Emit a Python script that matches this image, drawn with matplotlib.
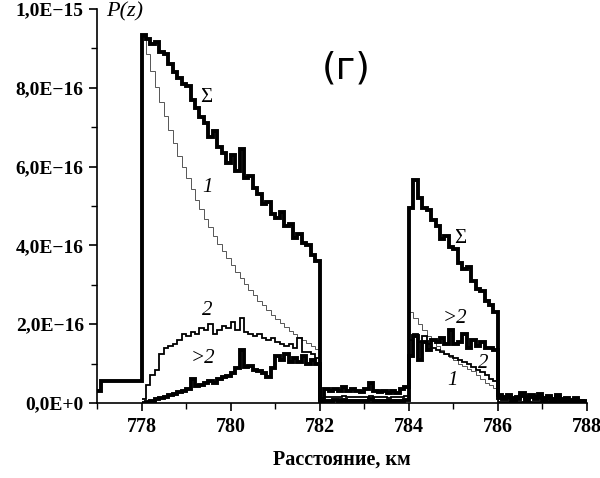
import numpy as np
import matplotlib
matplotlib.use("Agg")
import matplotlib.pyplot as plt
from matplotlib.ticker import MultipleLocator, FixedLocator, FixedFormatter

# values in units of 1e-16, bins of 0.1 km
step = 0.1

# sum curve, from 777.0 km
sum_pre = [0.3, 0.55, 0.55, 0.55, 0.55, 0.55, 0.55, 0.55, 0.55, 0.55]
sum_p1 = [9.35, 9.25, 9.1, 9.15, 8.9, 8.85, 8.6, 8.4, 8.25, 8.1,
          8.05, 7.7, 7.5, 7.25, 7.1, 6.75, 6.9, 6.5, 6.35, 6.1,
          6.3, 5.9, 6.45, 5.7, 5.75, 5.45, 5.3, 5.05, 5.1, 4.8,
          4.7, 4.85, 4.5, 4.55, 4.2, 4.3, 4.05, 4.0, 3.75, 3.6]
sum_gap = [0.1, 0.35, 0.3, 0.35, 0.3, 0.4, 0.3, 0.35, 0.3, 0.28,
           0.35, 0.5, 0.3, 0.28, 0.3, 0.25, 0.3, 0.25, 0.35, 0.4]
sum_p2 = [4.95, 5.65, 5.2, 4.95, 4.9, 4.65, 4.5, 4.15, 4.25, 3.95,
          3.9, 3.55, 3.4, 3.45, 3.1, 2.9, 2.85, 2.6, 2.5, 2.3]
sum_tail = [0.2, 0.15, 0.2, 0.12, 0.15, 0.25, 0.12, 0.2, 0.15, 0.22,
            0.12, 0.18, 0.1, 0.2, 0.1, 0.12, 0.08, 0.12, 0.06, 0.05]

# single scattering (1), from 778.0 km
one_p1 = [9.3, 8.86, 8.43, 8.03, 7.64, 7.28, 6.93, 6.6, 6.28, 5.98,
          5.7, 5.42, 5.16, 4.92, 4.68, 4.46, 4.25, 4.04, 3.85, 3.67,
          3.49, 3.32, 3.16, 3.01, 2.87, 2.73, 2.6, 2.48, 2.36, 2.24,
          2.14, 2.03, 1.94, 1.84, 1.76, 1.67, 1.59, 1.52, 1.44, 1.37]
one_gap = [0.1] * 20
one_p2 = [2.3, 2.15, 2.0, 1.85, 1.7, 1.58, 1.45, 1.35, 1.25, 1.17,
          1.08, 1.0, 0.93, 0.87, 0.8, 0.7, 0.6, 0.52, 0.45, 0.38]
one_tail = [0.02] * 20

# double scattering (2)
two_p1 = [0.1, 0.45, 0.7, 0.85, 1.25, 1.4, 1.45, 1.5, 1.6, 1.75,
          1.7, 1.8, 1.75, 1.9, 1.85, 2.0, 1.75, 1.85, 1.95, 1.9,
          2.05, 1.85, 2.15, 1.8, 1.75, 1.7, 1.75, 1.65, 1.6, 1.65,
          1.55, 1.5, 1.45, 1.5, 1.4, 1.65, 1.3, 1.3, 1.25, 1.15]
two_gap = [0.05, 0.15, 0.14, 0.16, 0.15, 0.17, 0.14, 0.15, 0.16, 0.14,
           0.15, 0.18, 0.14, 0.15, 0.14, 0.13, 0.15, 0.14, 0.16, 0.18]
two_p2 = [1.6, 1.75, 1.55, 1.7, 1.5, 1.4, 1.35, 1.3, 1.25, 1.2,
          1.15, 1.1, 1.05, 1.0, 0.92, 0.85, 0.78, 0.7, 0.62, 0.55]
two_tail = [0.03] * 20

# multiple scattering (>2)
many_p1 = [0.0, 0.03, 0.06, 0.1, 0.12, 0.15, 0.2, 0.22, 0.28, 0.3,
           0.35, 0.6, 0.42, 0.45, 0.5, 0.55, 0.52, 0.6, 0.65, 0.68,
           0.75, 0.9, 1.35, 0.92, 0.95, 0.85, 0.82, 0.75, 0.65, 0.9,
           1.2, 1.1, 1.25, 1.05, 1.15, 1.05, 1.2, 1.0, 1.1, 1.0]
many_gap = [0.03, 0.06, 0.05, 0.07, 0.05, 0.08, 0.05, 0.06, 0.05, 0.04,
            0.06, 0.1, 0.05, 0.04, 0.05, 0.04, 0.05, 0.04, 0.06, 0.08]
many_p2 = [1.2, 1.7, 1.1, 1.55, 1.35, 1.6, 1.55, 1.65, 1.5, 1.85,
           1.5, 1.55, 1.75, 1.4, 1.6, 1.45, 1.55, 1.4, 1.4, 1.35]
many_tail = [0.12, 0.1, 0.14, 0.08, 0.1, 0.18, 0.08, 0.14, 0.1, 0.15,
             0.08, 0.12, 0.06, 0.14, 0.06, 0.08, 0.05, 0.08, 0.04, 0.03]

y_ticks = [0, 2e-16, 4e-16, 6e-16, 8e-16, 1e-15]
y_labels = ["0,0E+0", "2,0E\u221216", "4,0E\u221216", "6,0E\u221216", "8,0E\u221216", "1,0E\u221215"]

sum_vals = np.array(sum_pre + sum_p1 + sum_gap + sum_p2 + sum_tail) * 1e-16
one_vals = np.array(one_p1 + one_gap + one_p2 + one_tail) * 1e-16
two_vals = np.array(two_p1 + two_gap + two_p2 + two_tail) * 1e-16
many_vals = np.array(many_p1 + many_gap + many_p2 + many_tail) * 1e-16

sum_edges = 777.0 + step * np.arange(len(sum_vals) + 1)
comp_edges = 778.0 + step * np.arange(len(one_vals) + 1)

serif = "Liberation Serif"

fig = plt.figure(figsize=(6.0, 4.78), dpi=100)
ax = fig.add_axes([97 / 600, 1 - 403 / 478, 490 / 600, 394 / 478])

ax.stairs(one_vals, comp_edges, baseline=None, color="#555555", lw=0.7)
ax.stairs(two_vals, comp_edges, baseline=None, color="black", lw=1.3)
ax.stairs(many_vals, comp_edges, baseline=None, color="black", lw=2.8)
ax.stairs(sum_vals, sum_edges, baseline=None, color="black", lw=2.8)

ax.set_xlim(777, 788)
ax.set_ylim(0, 1e-15)

for s in ["top", "right"]:
    ax.spines[s].set_visible(False)
for s in ["left", "bottom"]:
    ax.spines[s].set_linewidth(1.2)

ax.xaxis.set_major_locator(MultipleLocator(2))
ax.xaxis.set_minor_locator(MultipleLocator(1))
ax.yaxis.set_major_locator(FixedLocator(y_ticks))
ax.yaxis.set_major_formatter(FixedFormatter(y_labels))
ax.yaxis.set_minor_locator(MultipleLocator(1e-16))
ax.tick_params(which="major", length=6, width=1.2, direction="out")
ax.tick_params(which="minor", length=4, width=1.0, direction="out")
ax.tick_params(axis="x", pad=4)
for lab in ax.get_xticklabels():
    lab.set_fontfamily(serif)
    lab.set_fontweight("bold")
    lab.set_fontsize(14.5)
for lab in ax.get_yticklabels():
    lab.set_fontfamily(serif)
    lab.set_fontweight("bold")
    lab.set_fontsize(14)

ax.set_xlabel("Расстояние, км", fontfamily=serif, fontweight="bold", fontsize=14.5, labelpad=9)
fig.text(106 / 600, 1 - 2 / 478, "P(z)", fontfamily=serif, fontstyle="italic", fontsize=16,
         ha="left", va="top")
ax.text(782.6, 8.5e-16, "(г)", fontfamily="DejaVu Sans", fontsize=27, ha="center", va="center")

lab_kw = dict(fontfamily=serif, fontsize=15, ha="center", va="center")
ax.text(779.46, 7.75e-16, "\u03a3", **lab_kw)
ax.text(785.15, 4.18e-16, "\u03a3", **lab_kw)
ax.text(779.48, 5.47e-16, "1", fontstyle="italic", **lab_kw)
ax.text(784.99, 0.58e-16, "1", fontstyle="italic", **lab_kw)
ax.text(779.48, 2.35e-16, "2", fontstyle="italic", **lab_kw)
ax.text(785.66, 1.01e-16, "2", fontstyle="italic", **lab_kw)
ax.text(779.37, 1.14e-16, ">2", fontstyle="italic", **lab_kw)
ax.text(785.03, 2.15e-16, ">2", fontstyle="italic", **lab_kw)

fig.savefig("out.png", dpi=100)
